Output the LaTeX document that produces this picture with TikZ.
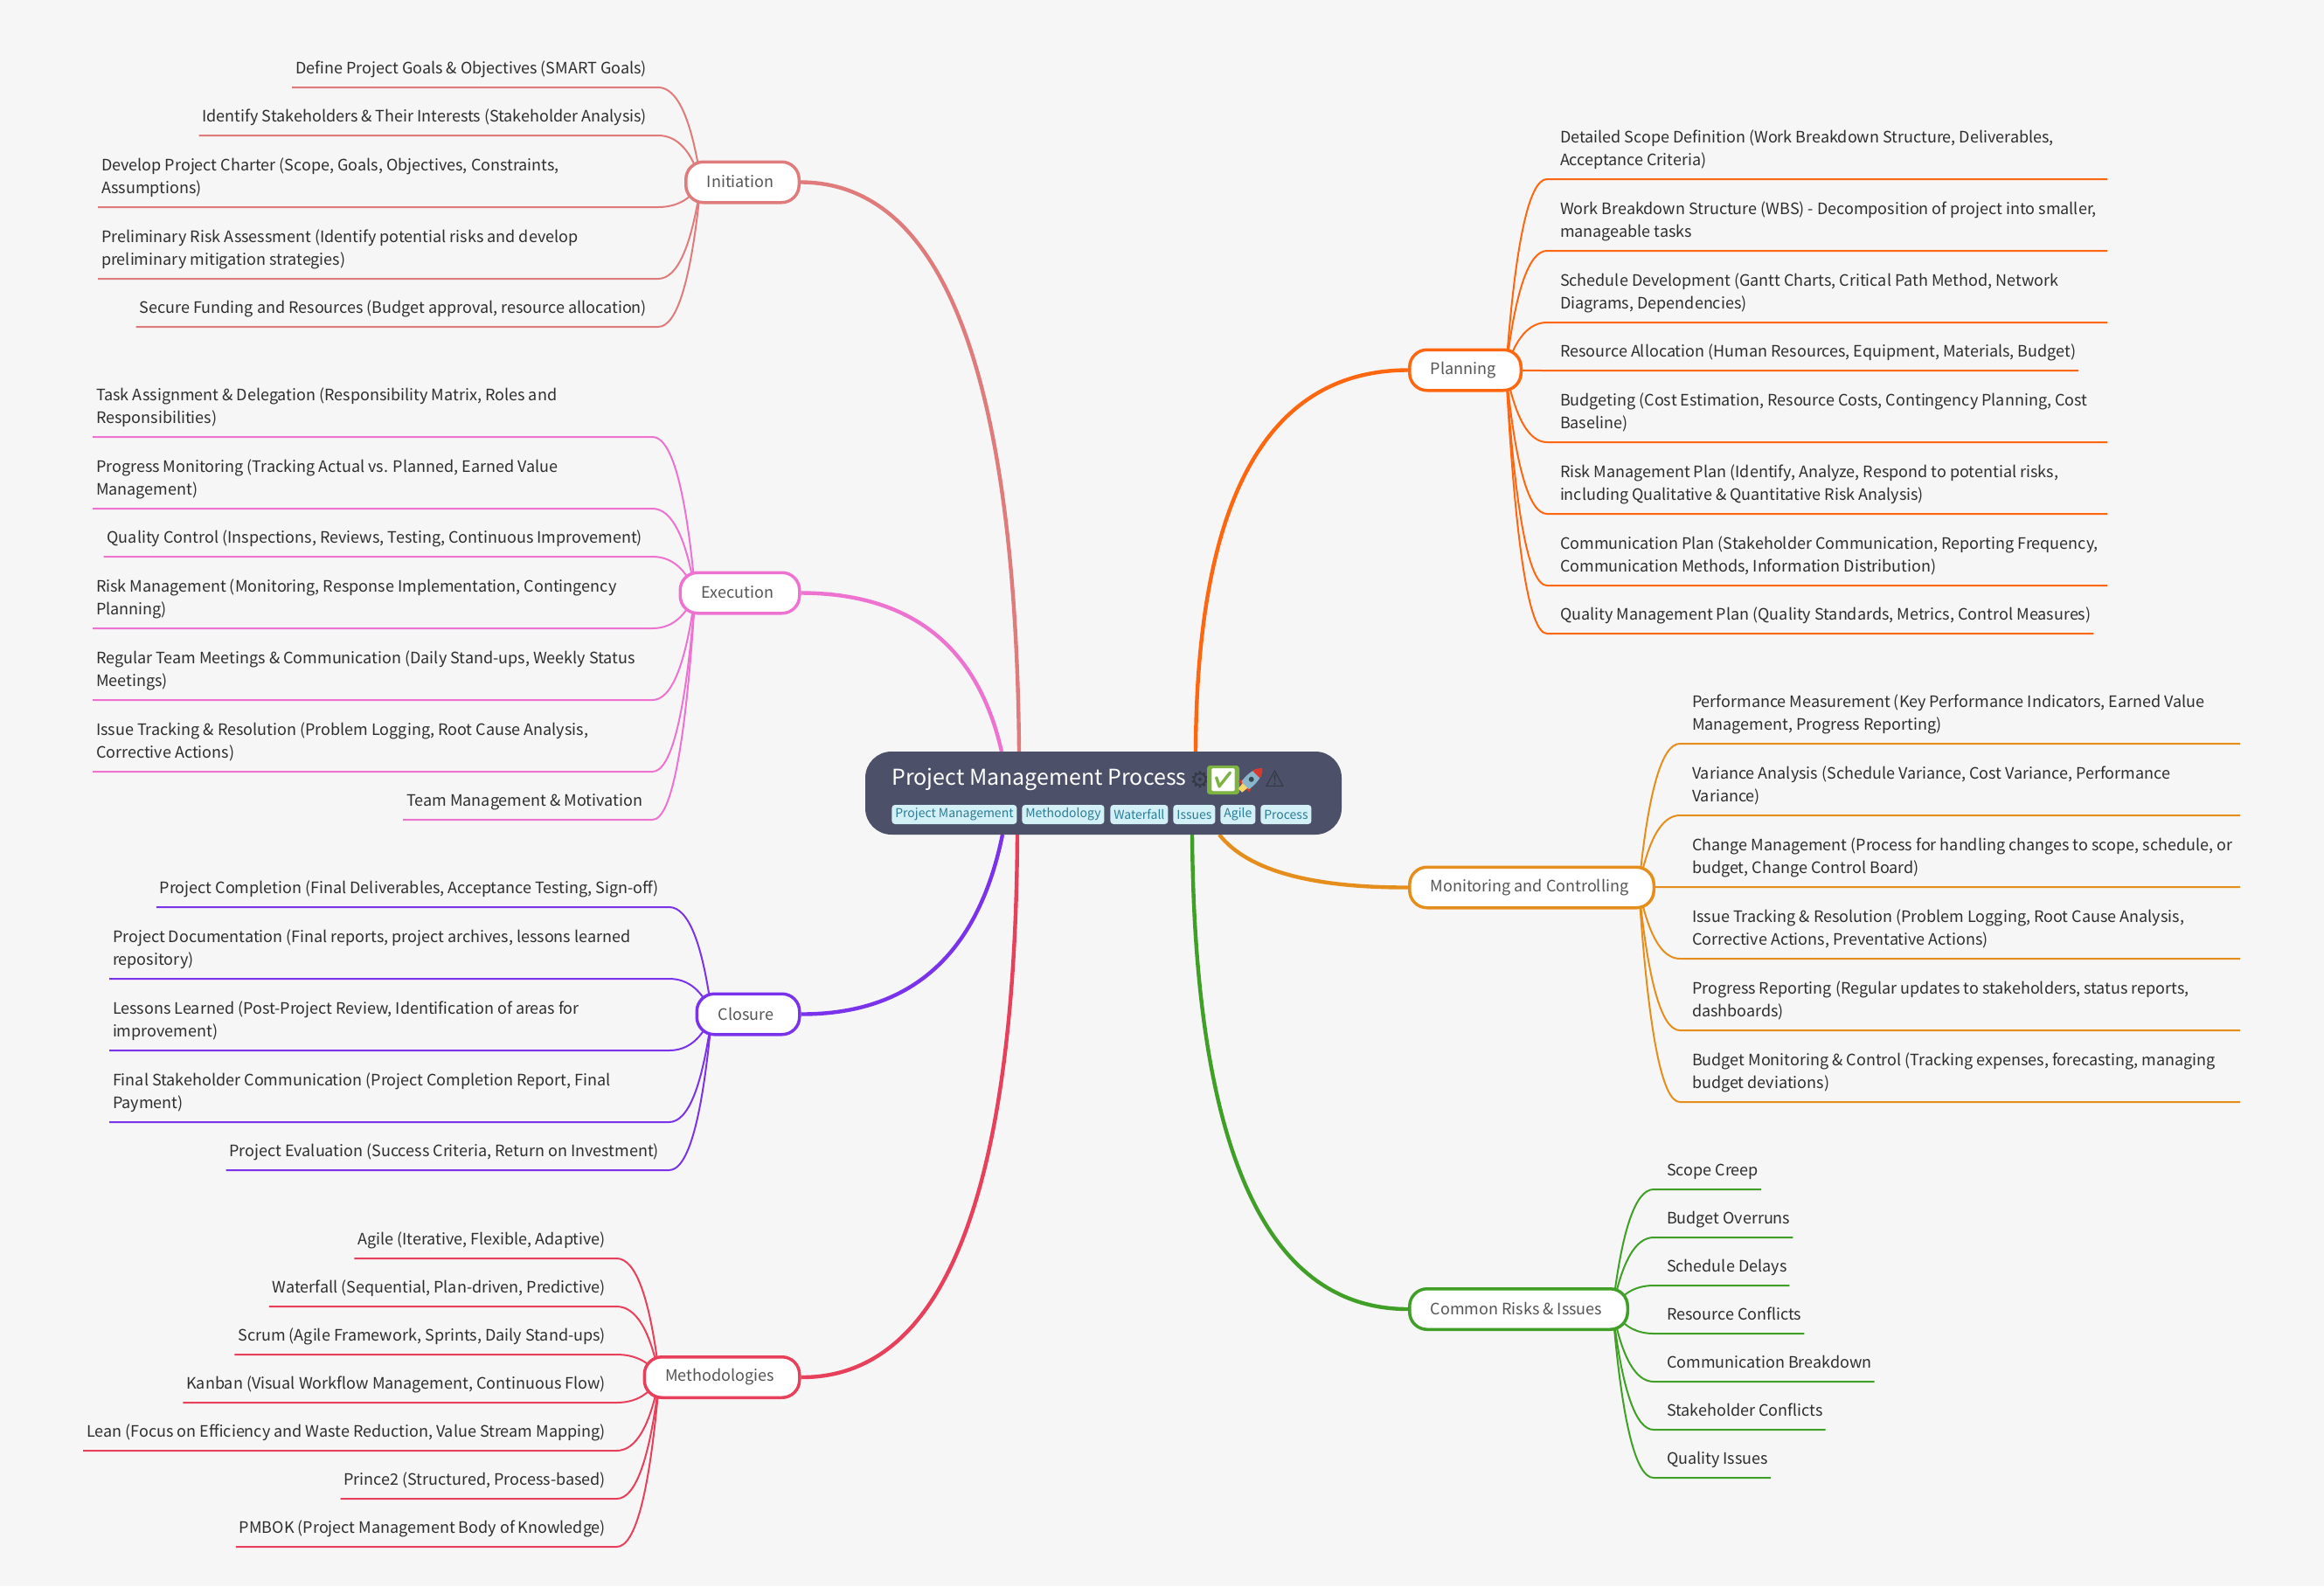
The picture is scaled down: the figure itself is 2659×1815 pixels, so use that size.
\documentclass[tikz,border=0pt]{standalone}
\usepackage{fontspec}
\setmainfont{Noto Sans CJK SC}
\newfontfamily\emojifont{Noto Emoji}
\newfontfamily\symfont{DejaVu Sans}
\usetikzlibrary{calc,backgrounds}
\definecolor{bgc}{HTML}{F6F6F6}
\definecolor{rootc}{HTML}{4C5069}
\definecolor{cInit}{HTML}{E07B7B}
\definecolor{cExec}{HTML}{EE72D0}
\definecolor{cClos}{HTML}{7A33EA}
\definecolor{cMeth}{HTML}{E8405A}
\definecolor{cPlan}{HTML}{FF6610}
\definecolor{cMon}{HTML}{E68E1C}
\definecolor{cRisk}{HTML}{3F9F26}
\definecolor{leaftext}{HTML}{2E2E2E}
\definecolor{branchtext}{HTML}{555555}
\definecolor{tagfill}{HTML}{D3F0F7}
\definecolor{tagtext}{HTML}{2B7C95}
\definecolor{emojidark}{HTML}{363844}
\definecolor{checkgreen}{HTML}{7CB342}
\definecolor{rkred}{HTML}{D63A2C}
\definecolor{rkblue}{HTML}{8AB6CC}
\definecolor{rkyellow}{HTML}{F5D76E}
\definecolor{rkdark}{HTML}{37474F}
\tikzset{
  leaf/.style={inner sep=0pt,outer sep=0pt,text=leaftext,font=\fontsize{9}{13}\selectfont},
  branch/.style={draw,line width=1.75pt,fill=white,rounded corners=10pt,inner sep=0pt,text=branchtext,font=\fontsize{9}{13}\selectfont,minimum height=23.25pt},
  subline/.style={line width=1pt},
  mainline/.style={line width=2.2pt},
  tagbox/.style={fill=tagfill,rounded corners=1.8pt,inner sep=0pt,text=tagtext,font=\fontsize{7}{10}\selectfont,minimum height=11pt,anchor=west},
}
\newcommand\bt[1]{\raisebox{0.5pt}{\kern-2.5pt #1}}
\newcommand\twolines[2]{\vbox{\baselineskip=13pt\lineskiplimit=-10pt\hbox{#1}\hbox{#2}}}
% start point, parent, colour, y
\newcommand\curveL[4]{%
  \begin{pgfonlayer}{background}
  \coordinate (a) at ($(#2.west)+(-30,0)$);
  \coordinate (A) at (a |- 0,#4);
  \coordinate (C) at ($(A)+(33,0)$);
  \coordinate (E) at ($(#2.west)+(19,0)$);
  \draw[subline,#3] #1 -- (A) .. controls ($(A)!2/3!(C)$) and ($(E)!2/3!(C)$) .. (E);
  \end{pgfonlayer}}
\newcommand\curveR[4]{%
  \begin{pgfonlayer}{background}
  \coordinate (a) at ($(#2.east)+(28,0)$);
  \coordinate (A) at (a |- 0,#4);
  \coordinate (C) at ($(A)+(-31,0)$);
  \coordinate (E) at ($(#2.east)+(-19,0)$);
  \draw[subline,#3] #1 -- (A) .. controls ($(A)!2/3!(C)$) and ($(E)!2/3!(C)$) .. (E);
  \end{pgfonlayer}}
% name parent colour x y text
\newcommand\LS[6]{\node[leaf,anchor=base east] (#1) at (#4+1,#5-15.4) {#6};
  \curveL{($(#1.base west)+(-4,15.4)$)}{#2}{#3}{#5}}
% name parent colour x y line1 line2
\newcommand\LM[7]{\node[leaf,anchor=base west] (#1) at (#4,#5-15.4) {\twolines{#6}{#7}};
  \curveL{($(#1.base west)+(-4,15.4)$)}{#2}{#3}{#5}}
% name parent colour x y text
\newcommand\RS[6]{\node[leaf,anchor=base west] (#1) at (#4+1,#5-15.4) {#6};
  \curveR{($(#1.base east)+(3,15.4)$)}{#2}{#3}{#5}}
% name parent colour x y line1 line2 rightend
\newcommand\RM[8]{\node[leaf,anchor=base west] (#1) at (#4,#5-15.4) {\twolines{#6}{#7}};
  \curveR{(#8,#5)}{#2}{#3}{#5}}
\newcommand\mainQ[4]{\begin{pgfonlayer}{background}
  \coordinate (q) at #3;
  \draw[mainline,#1] #2 .. controls ($#2!2/3!(q)$) and ($#4!2/3!(q)$) .. #4;
  \end{pgfonlayer}}
\begin{document}
\begin{tikzpicture}[x=0.5pt,y=-0.5pt]
\useasboundingbox (0,0) rectangle (2659,1815);
\begin{pgfonlayer}{background}
\fill[bgc] (0,0) rectangle (2659,1815);
\end{pgfonlayer}

% root
\node[fill=rootc,rounded corners=15pt,minimum width=272.5pt,minimum height=47.5pt,inner sep=0pt] (root) at (1262.5,907.5) {};
\node[anchor=base west,inner sep=0pt,text=white,font=\fontsize{12.5}{16}\selectfont] (title) at (1020,898) {Project Management Process};
\node[anchor=center,inner sep=0pt,text=emojidark,font=\symfont\fontsize{13}{13}\selectfont] (gear) at (1373,892.5) {⚙};
\node[fill=checkgreen,inner sep=0pt,minimum width=13.5pt,minimum height=14.5pt,rounded corners=1pt,text=white,font=\emojifont\fontsize{13}{13}\selectfont] (check) at (1399.5,892.5) {✅};
\draw[checkgreen,line width=1.6pt,rounded corners=1pt] (check.north west) rectangle (check.south east);
\begin{scope}[shift={(1431,892.5)},rotate=45]
  \fill[rkred] (-11,-9) -- (2,-3) -- (2,3) -- (-11,9) -- cycle;
  \fill[rkyellow] (-17,-3) -- (-8,-4) -- (-8,4) -- (-17,3) -- cycle;
  \fill[rkblue] (-9,-6) .. controls (0,-8) and (8,-6) .. (12,-5) -- (12,5) .. controls (8,6) and (0,8) .. (-9,6) -- cycle;
  \fill[rkred] (9,-6) .. controls (14,-5) and (17,-2) .. (19,0) .. controls (17,2) and (14,5) .. (9,6) -- cycle;
  \fill[rkdark] (1,0) circle (3);
\end{scope}
\node[anchor=center,inner sep=0pt,text=emojidark,font=\symfont\fontsize{13}{13}\selectfont] (warn) at (1458.5,891) {⚠};
% tags
\node[tagbox,minimum width=71.5pt] (t1) at (1020,932) {Project Management};
\node[tagbox,minimum width=47pt] (t2) at (1169,932) {Methodology};
\node[tagbox,minimum width=33pt] (t3) at (1270,932) {Waterfall};
\node[tagbox,minimum width=24pt] (t4) at (1342,932) {Issues};
\node[tagbox,minimum width=20pt] (t5) at (1396,932) {Agile};
\node[tagbox,minimum width=29pt] (t6) at (1442,932) {Process};

% branches
\node[branch,draw=cInit,minimum width=64.75pt] (init) at (849.5,208.5) {\bt{Initiation}};
\node[branch,draw=cExec,minimum width=68.25pt] (exec) at (846.5,678.5) {\bt{Execution}};
\node[branch,draw=cClos,minimum width=58.75pt] (clos) at (856,1160.5) {\bt{Closure}};
\node[branch,draw=cMeth,minimum width=88.75pt] (meth) at (826,1576) {\bt{Methodologies}};
\node[branch,draw=cPlan,minimum width=63.75pt] (plan) at (1676.5,423.5) {\bt{Planning}};
\node[branch,draw=cMon,minimum width=139.75pt] (mon) at (1752.5,1015.5) {\bt{Monitoring and Controlling}};
\node[branch,draw=cRisk,minimum width=124.75pt] (risk) at (1737.5,1498) {\bt{Common Risks \& Issues}};

% main connectors
\coordinate (rInit) at (1166,860);
\coordinate (rExec) at (1146,860);
\coordinate (rClos) at (1147,955);
\coordinate (rMeth) at (1164,955);
\coordinate (rPlan) at (1368,860);
\coordinate (rMon) at (1395,955);
\coordinate (rRisk) at (1364,955);
\mainQ{cInit}{(init.east)}{(1160,209)}{(rInit)}
\mainQ{cExec}{(exec.east)}{(1105,679)}{(rExec)}
\mainQ{cClos}{(clos.east)}{(1105,1161)}{(rClos)}
\mainQ{cMeth}{(meth.east)}{(1160,1577)}{(rMeth)}
\mainQ{cPlan}{(plan.west)}{(1370,424)}{(rPlan)}
\mainQ{cMon}{(mon.west)}{(1443,1016)}{(rMon)}
\mainQ{cRisk}{(risk.west)}{(1368,1498)}{(rRisk)}

% Initiation
\LS{i1}{init}{cInit}{739}{100}{Define Project Goals \& Objectives (SMART Goals)}
\LS{i2}{init}{cInit}{739}{155}{Identify Stakeholders \& Their Interests (Stakeholder Analysis)}
\LM{i3}{init}{cInit}{116}{237}{Develop Project Charter (Scope, Goals, Objectives, Constraints,}{Assumptions)}
\LM{i4}{init}{cInit}{116}{319}{Preliminary Risk Assessment (Identify potential risks and develop}{preliminary mitigation strategies)}
\LS{i5}{init}{cInit}{739}{374}{Secure Funding and Resources (Budget approval, resource allocation)}
% Execution
\LM{e1}{exec}{cExec}{110}{500}{Task Assignment \& Delegation (Responsibility Matrix, Roles and}{Responsibilities)}
\LM{e2}{exec}{cExec}{110}{582}{Progress Monitoring (Tracking Actual vs. Planned, Earned Value}{Management)}
\LS{e3}{exec}{cExec}{734}{637}{Quality Control (Inspections, Reviews, Testing, Continuous Improvement)}
\LM{e4}{exec}{cExec}{110}{719}{Risk Management (Monitoring, Response Implementation, Contingency}{Planning)}
\LM{e5}{exec}{cExec}{110}{801}{Regular Team Meetings \& Communication (Daily Stand-ups, Weekly Status}{Meetings)}
\LM{e6}{exec}{cExec}{110}{883}{Issue Tracking \& Resolution (Problem Logging, Root Cause Analysis,}{Corrective Actions)}
\LS{e7}{exec}{cExec}{734}{938}{Team Management \& Motivation}
% Closure
\LS{c1}{clos}{cClos}{753}{1038}{Project Completion (Final Deliverables, Acceptance Testing, Sign-off)}
\LM{c2}{clos}{cClos}{129}{1120}{Project Documentation (Final reports, project archives, lessons learned}{repository)}
\LM{c3}{clos}{cClos}{129}{1202}{Lessons Learned (Post-Project Review, Identification of areas for}{improvement)}
\LM{c4}{clos}{cClos}{129}{1284}{Final Stakeholder Communication (Project Completion Report, Final}{Payment)}
\LS{c5}{clos}{cClos}{753}{1339}{Project Evaluation (Success Criteria, Return on Investment)}
% Methodologies
\LS{m1}{meth}{cMeth}{692}{1440}{Agile (Iterative, Flexible, Adaptive)}
\LS{m2}{meth}{cMeth}{692}{1495}{Waterfall (Sequential, Plan-driven, Predictive)}
\LS{m3}{meth}{cMeth}{692}{1550}{Scrum (Agile Framework, Sprints, Daily Stand-ups)}
\LS{m4}{meth}{cMeth}{692}{1605}{Kanban (Visual Workflow Management, Continuous Flow)}
\LS{m5}{meth}{cMeth}{692}{1660}{Lean (Focus on Efficiency and Waste Reduction, Value Stream Mapping)}
\LS{m6}{meth}{cMeth}{692}{1715}{Prince2 (Structured, Process-based)}
\LS{m7}{meth}{cMeth}{692}{1770}{PMBOK (Project Management Body of Knowledge)}
% Planning
\RM{p1}{plan}{cPlan}{1785}{205}{Detailed Scope Definition (Work Breakdown Structure, Deliverables,}{Acceptance Criteria)}{2411}
\RM{p2}{plan}{cPlan}{1785}{287}{Work Breakdown Structure (WBS) - Decomposition of project into smaller,}{manageable tasks}{2411}
\RM{p3}{plan}{cPlan}{1785}{369}{Schedule Development (Gantt Charts, Critical Path Method, Network}{Diagrams, Dependencies)}{2411}
\RS{p4}{plan}{cPlan}{1784}{424}{Resource Allocation (Human Resources, Equipment, Materials, Budget)}
\RM{p5}{plan}{cPlan}{1785}{506}{Budgeting (Cost Estimation, Resource Costs, Contingency Planning, Cost}{Baseline)}{2411}
\RM{p6}{plan}{cPlan}{1785}{588}{Risk Management Plan (Identify, Analyze, Respond to potential risks,}{including Qualitative \& Quantitative Risk Analysis)}{2411}
\RM{p7}{plan}{cPlan}{1785}{670}{Communication Plan (Stakeholder Communication, Reporting Frequency,}{Communication Methods, Information Distribution)}{2411}
\RS{p8}{plan}{cPlan}{1784}{725}{Quality Management Plan (Quality Standards, Metrics, Control Measures)}
% Monitoring
\RM{n1}{mon}{cMon}{1936}{851}{Performance Measurement (Key Performance Indicators, Earned Value}{Management, Progress Reporting)}{2563}
\RM{n2}{mon}{cMon}{1936}{933}{Variance Analysis (Schedule Variance, Cost Variance, Performance}{Variance)}{2563}
\RM{n3}{mon}{cMon}{1936}{1015}{Change Management (Process for handling changes to scope, schedule, or}{budget, Change Control Board)}{2563}
\RM{n4}{mon}{cMon}{1936}{1097}{Issue Tracking \& Resolution (Problem Logging, Root Cause Analysis,}{Corrective Actions, Preventative Actions)}{2563}
\RM{n5}{mon}{cMon}{1936}{1179}{Progress Reporting (Regular updates to stakeholders, status reports,}{dashboards)}{2563}
\RM{n6}{mon}{cMon}{1936}{1261}{Budget Monitoring \& Control (Tracking expenses, forecasting, managing}{budget deviations)}{2563}
% Risks
\RS{r1}{risk}{cRisk}{1906}{1361}{Scope Creep}
\RS{r2}{risk}{cRisk}{1906}{1416}{Budget Overruns}
\RS{r3}{risk}{cRisk}{1906}{1471}{Schedule Delays}
\RS{r4}{risk}{cRisk}{1906}{1526}{Resource Conflicts}
\RS{r5}{risk}{cRisk}{1906}{1581}{Communication Breakdown}
\RS{r6}{risk}{cRisk}{1906}{1636}{Stakeholder Conflicts}
\RS{r7}{risk}{cRisk}{1906}{1691}{Quality Issues}
\end{tikzpicture}
\end{document}
